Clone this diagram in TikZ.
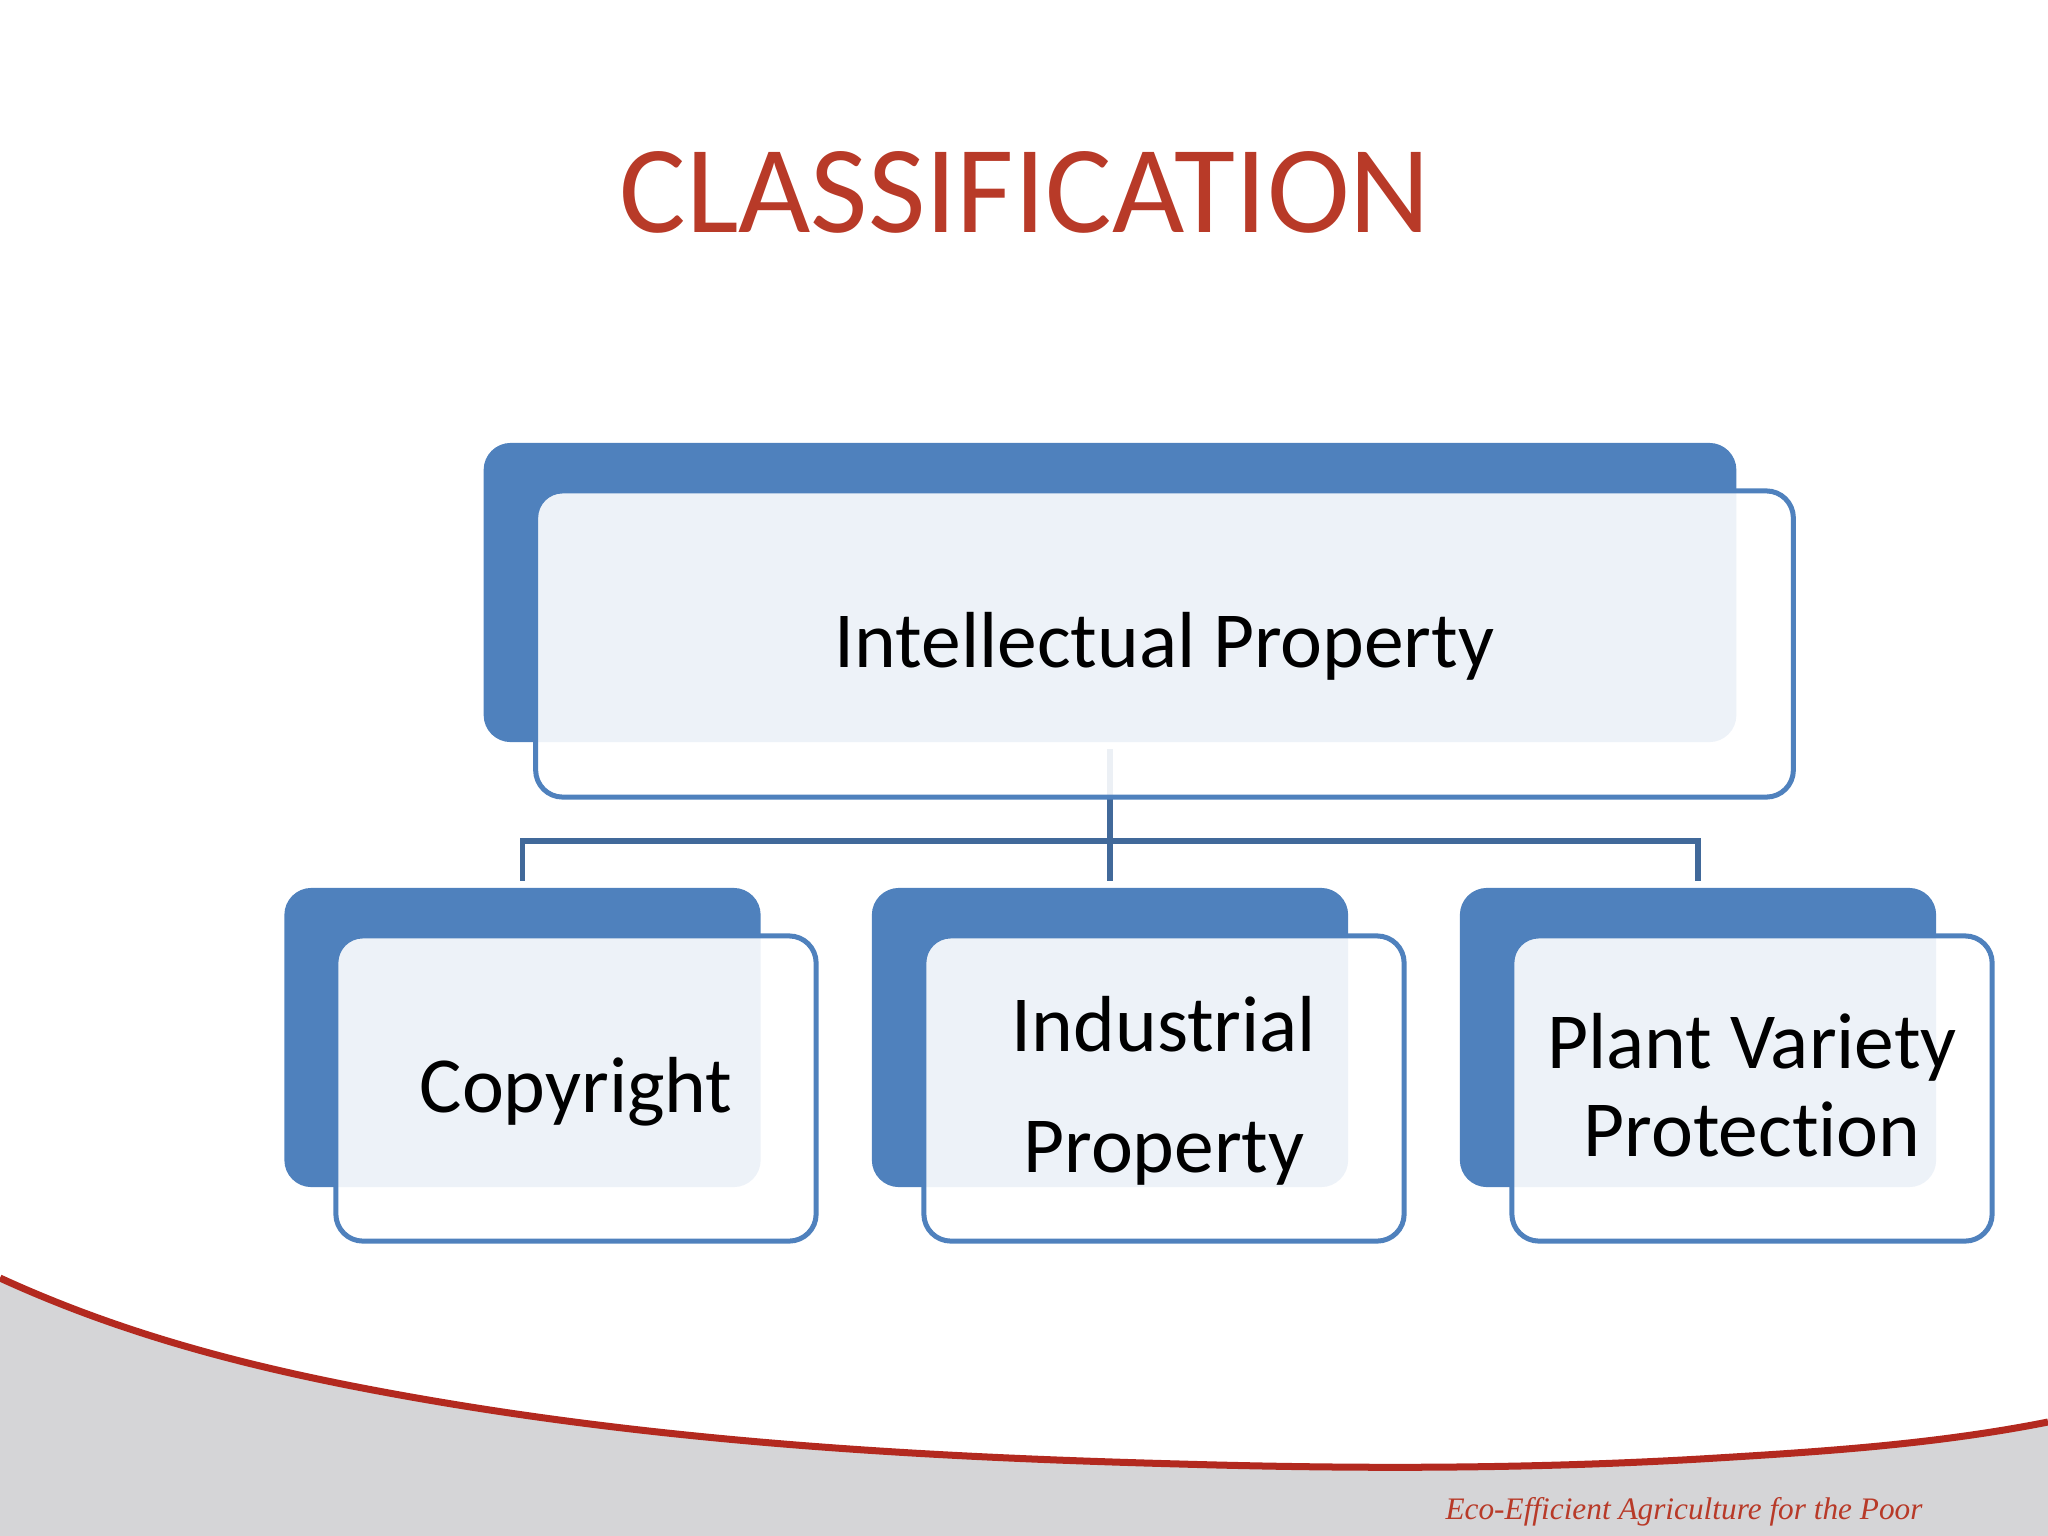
\documentclass[tikz,border=0pt]{standalone}
\usepackage{fontspec}
\usepackage{tikz}
\setmainfont[Ligatures=NoCommon]{Carlito}
\newfontfamily\footfont{Liberation Serif}
\definecolor{boxblue}{HTML}{4F81BD}
\definecolor{linkblue}{HTML}{41699A}
\definecolor{titlered}{HTML}{B83A28}
\definecolor{swoopred}{HTML}{B3291F}
\definecolor{swoopgray}{HTML}{D5D5D7}

\begin{document}
\begin{tikzpicture}[x=0.01cm, y=-0.01cm,
		back_style/.style={rectangle,rounded corners=0.27cm,fill=boxblue,inner sep=0pt},
		top_back_style/.style={back_style,minimum width=12.52cm,minimum height=2.99cm},
		back_style1/.style={back_style,minimum width=4.76cm,minimum height=2.99cm},
		node_style/.style={rectangle,rounded corners=0.27cm,draw=boxblue,line width=0.05cm,fill=white,fill opacity=0.9,text opacity=1,inner sep=0pt,align=center,font=\fontsize{22.6}{26}\selectfont},
		top_node_style/.style={node_style,minimum width=12.57cm,minimum height=3.06cm},
		node_style1/.style={node_style,minimum width=4.80cm,minimum height=3.05cm},
		edge_style/.style={draw=linkblue,line width=0.055cm,shorten >=0.06cm}]

	\useasboundingbox (0,0) rectangle (2048,1536);

	% swoop at the foot of the slide
	\fill[swoopgray] (0,1278) .. controls (133,1339) and (267,1371) .. (400,1395) .. controls (660,1442) and (920,1457) .. (1180,1464) .. controls (1353,1469) and (1527,1469) .. (1700,1459) .. controls (1816,1452) and (1932,1445) .. (2048,1422) -- (2048,1536) -- (0,1536) -- cycle;
	\draw[swoopred,line width=0.07cm] (0,1278) .. controls (133,1339) and (267,1371) .. (400,1395) .. controls (660,1442) and (920,1457) .. (1180,1464) .. controls (1353,1469) and (1527,1469) .. (1700,1459) .. controls (1816,1452) and (1932,1445) .. (2048,1422);

	\node[top_back_style] (n0_back) at (1110,592.5) {};
	\node[back_style1] (n1_back) at (522.5,1037.5) {};
	\node[back_style1] (n2_back) at (1110,1037.5) {};
	\node[back_style1] (n3_back) at (1698,1037.5) {};
	\coordinate (bus) at (1110,841);

	\draw[edge_style,shorten <=0.06cm] (n0_back.south) -- (n2_back.north);
	\draw[edge_style] (bus) -| (n1_back.north);
	\draw[edge_style] (bus) -| (n3_back.north);

	\node[top_node_style,text height=0.61cm,text depth=0.15cm] (n0) at (1164.5,644) {Intellectual Property};
	\node[node_style1,text height=0.63cm,text depth=0.15cm] (n1) at (576,1088.5) {Copyright};
	\node[node_style1,text height=1.83cm,text depth=0.15cm] (n2) at (1164,1088.5) {Industrial\\[0.3cm]Property};
	\node[node_style1,text depth=0.07cm] (n3) at (1752,1088.5) {Plant Variety\\[-0.03cm]Protection};

	\node[text=titlered,font=\fontsize{35.5}{42}\selectfont,inner sep=0pt] (title) at (1025,192) {CLASSIFICATION};
	\node[text=titlered,font=\footfont\itshape\fontsize{8.9}{11}\selectfont,inner sep=0pt] (foot) at (1684,1512) {Eco-Efficient Agriculture for the Poor};
\end{tikzpicture}
\end{document}
